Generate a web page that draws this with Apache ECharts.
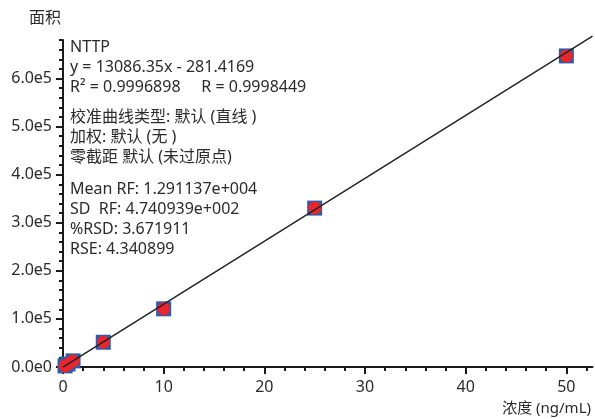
<!DOCTYPE html>
<html><head><meta charset="utf-8">
<script src="https://cdn.jsdelivr.net/npm/echarts@6/dist/echarts.min.js"></script>
<style>html,body{margin:0;padding:0;background:#fff}#c{width:595px;height:419px}</style>
</head><body><div id="c"></div>
<script>
// ---- data ----
const concentrations = [0.2, 0.5, 1, 4, 10, 25, 50];
const areas = [2300, 6200, 12700, 51500, 121000, 330500, 647000];
const fitLineX = [0, 52.6];
const fitLineY = [-281.4169, 688060];
const xTickLabels = [0, 10, 20, 30, 40, 50];
const yTickLabels = ['0.0e0', '1.0e5', '2.0e5', '3.0e5', '4.0e5', '5.0e5', '6.0e5'];
const xTitle = '浓度 (ng/mL)';
const yTitle = '面积';
const infoGroup1 = ['NTTP', 'y = 13086.35x - 281.4169', 'R\u00b2 = 0.9996898     R = 0.9998449'];
const infoGroup2 = ['校准曲线类型: 默认 (直线 )', '加权: 默认 (无 )', '零截距 默认 (未过原点)'];
const infoGroup3 = ['Mean RF: 1.291137e+004', 'SD  RF: 4.740939e+002', '%RSD: 3.671911', 'RSE: 4.340899'];

// ---- layout ----
const FONT = "'Noto Sans', 'Noto Sans CJK SC', sans-serif";
const TXT = '#2b2b2b';
const AX = '#1a1a1a';
const pxX = 10.067;
const pxY = 48.08 / 1e5;
const LEFT = 63, BOTTOM = 52;
const X_MAX = 52.6, Y_MAX = 680000;

const chart = echarts.init(document.getElementById('c'), null, {renderer: 'canvas'});

const hidden = {axisLine: {show: false}, axisTick: {show: false}, axisLabel: {show: false}, splitLine: {show: false}};
const tickStyle = {color: AX, width: 2};

function yFmt(v) {
  const i = Math.round(v / 100000);
  return yTickLabels[i] !== undefined ? yTickLabels[i] : '';
}

const graphics = [];
function addGroup(lines, top) {
  lines.forEach((t, i) => {
    graphics.push({type: 'text', x: 70, y: top + i * 20.3, style: {text: t, font: '16px ' + FONT, fill: TXT, textAlign: 'left', textVerticalAlign: 'middle'}});
  });
}
addGroup(infoGroup1, 47);
addGroup(infoGroup2, 117);
addGroup(infoGroup3, 189);
graphics.push({type: 'text', x: 61, y: 18, style: {text: yTitle, font: '16px ' + FONT, fill: TXT, textAlign: 'right', textVerticalAlign: 'middle'}});
graphics.push({type: 'text', x: 591, y: 409, style: {text: xTitle, font: '15px ' + FONT, fill: TXT, textAlign: 'right', textVerticalAlign: 'middle'}});

const option = {
  animation: false,
  backgroundColor: '#fff',
  grid: [
    {left: LEFT, bottom: BOTTOM, width: X_MAX * pxX, height: Y_MAX * pxY},
    {left: LEFT, bottom: BOTTOM, width: 52 * pxX, height: Y_MAX * pxY},
    {left: LEFT, bottom: BOTTOM, width: 50 * pxX, height: 600000 * pxY}
  ],
  xAxis: [
    Object.assign({}, hidden, {gridIndex: 0, type: 'value', min: 0, max: X_MAX, position: 'bottom',
      axisLine: {show: true, onZero: false, lineStyle: {color: AX, width: 2}}}),
    Object.assign({}, hidden, {gridIndex: 1, type: 'value', min: 0, max: 52, interval: 2, position: 'bottom',
      axisLine: {show: false, onZero: false}, axisTick: {show: true, length: 4, lineStyle: tickStyle}}),
    Object.assign({}, hidden, {gridIndex: 2, type: 'value', min: 0, max: 50, interval: 10, position: 'bottom',
      axisLine: {show: false, onZero: false}, axisTick: {show: true, length: 7, lineStyle: tickStyle},
      axisLabel: {show: true, margin: 12, fontSize: 16, fontFamily: FONT, color: TXT,
        formatter: v => (xTickLabels.indexOf(v) >= 0 ? String(v) : '')}})
  ],
  yAxis: [
    Object.assign({}, hidden, {gridIndex: 0, type: 'value', min: 0, max: Y_MAX, position: 'left',
      axisLine: {show: true, onZero: false, lineStyle: {color: AX, width: 2}}}),
    Object.assign({}, hidden, {gridIndex: 0, type: 'value', min: 0, max: Y_MAX, interval: 20000, position: 'left', offset: 0,
      axisLine: {show: false, onZero: false}, axisTick: {show: true, length: 4, lineStyle: tickStyle}}),
    Object.assign({}, hidden, {gridIndex: 1, type: 'value', min: 0, max: Y_MAX, show: false}),
    Object.assign({}, hidden, {gridIndex: 2, type: 'value', min: 0, max: 600000, interval: 100000, position: 'left',
      axisLine: {show: false, onZero: false}, axisTick: {show: true, length: 7, lineStyle: tickStyle},
      axisLabel: {show: true, margin: 11, fontSize: 16, fontFamily: FONT, color: TXT, formatter: yFmt}})
  ],
  series: [
    {type: 'scatter', xAxisIndex: 0, yAxisIndex: 0, symbol: 'rect', symbolSize: 15, z: 2,
      itemStyle: {color: '#2f5ba8', opacity: 1}, emphasis: {disabled: true},
      data: concentrations.map((c, i) => [c, areas[i]])},
    {type: 'scatter', xAxisIndex: 0, yAxisIndex: 0, symbol: 'circle', symbolSize: 13, z: 3,
      itemStyle: {color: '#e8262f', opacity: 1}, emphasis: {disabled: true},
      data: concentrations.map((c, i) => [c, areas[i]])},
    {type: 'line', xAxisIndex: 0, yAxisIndex: 0, showSymbol: false, clip: false, z: 4,
      lineStyle: {color: '#222', width: 1.5}, emphasis: {disabled: true},
      data: fitLineX.map((x, i) => [x, fitLineY[i]])}
  ],
  graphic: graphics
};
chart.setOption(option);
</script>
</body></html>
